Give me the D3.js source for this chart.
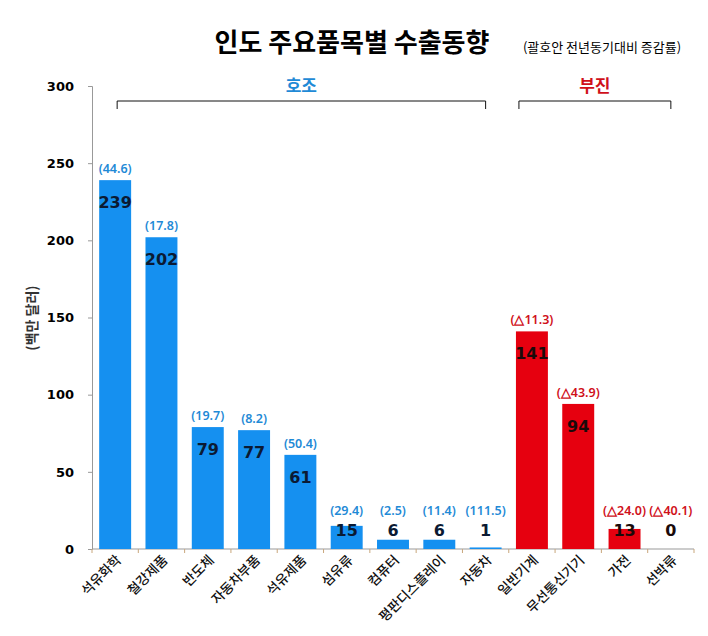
<!DOCTYPE html>
<html>
<head>
<meta charset="utf-8">
<title>인도 주요품목별 수출동향</title>
<script src="https://d3js.org/d3.v7.min.js"></script>
<style>
body { margin: 0; background: #fff; }
text { font-family: "Noto Sans CJK KR", "Noto Sans", sans-serif; }
</style>
</head>
<body>
<div id="container"></div>
<script>
// data
var categories = ["석유화학", "철강제품", "반도체", "자동차부품", "석유제품", "섬유류", "컴퓨터", "평판디스플레이", "자동차", "일반기계", "무선통신기기", "가전", "선박류"];
var values = [239, 202, 79, 77, 61, 15, 6, 6, 1, 141, 94, 13, 0];
var changes = [44.6, 17.8, 19.7, 8.2, 50.4, 29.4, 2.5, 11.4, 111.5, -11.3, -43.9, -24.0, -40.1];
var yTicks = [0, 50, 100, 150, 200, 250, 300];
var groups = [
	{ name: "호조", from: 0, to: 8 },
	{ name: "부진", from: 9, to: 12 }
];

var W = 708, H = 636;
var mLeft = 92, mRight = 694, mTop = 86, mBottom = 549;
var blue = "#1590f0", red = "#e6000f";
var blueText = "#1f8ad6", redText = "#d0101a";

var svg = d3.select("#container")
	.append("svg")
	.attr("width", W)
	.attr("height", H);

var x = d3.scaleBand()
	.domain(categories)
	.range([mLeft, mRight])
	.paddingInner(0.31)
	.paddingOuter(0.155);

var y = d3.scaleLinear()
	.domain([0, 300])
	.range([mBottom, mTop]);

function isGood(i) { return changes[i] >= 0; }

//Title
svg.append("text")
	.attr("x", 352)
	.attr("y", 52)
	.attr("text-anchor", "middle")
	.attr("font-size", 26)
	.attr("font-weight", "bold")
	.attr("fill", "#000")
	.text("인도 주요품목별 수출동향");

svg.append("text")
	.attr("x", 602)
	.attr("y", 52)
	.attr("text-anchor", "middle")
	.attr("font-size", 13)
	.attr("fill", "#000")
	.text("(괄호안 전년동기대비 증감률)");

//Y axis
var yAxis = svg.append("g")
	.attr("transform", "translate(" + mLeft + ",0)")
	.call(d3.axisLeft(y).tickValues(yTicks).tickSize(4).tickPadding(14));
yAxis.select(".domain").attr("stroke", "#999");
yAxis.selectAll(".tick line").attr("stroke", "#999");
yAxis.selectAll(".tick text")
	.attr("font-size", 13)
	.attr("font-weight", "bold")
	.attr("fill", "#000")
	.style("font-family", "'DejaVu Sans', sans-serif");

svg.append("text")
	.attr("transform", "translate(32,318) rotate(-90)")
	.attr("text-anchor", "middle")
	.attr("dy", "0.35em")
	.attr("font-size", 14)
	.attr("font-weight", "bold")
	.attr("fill", "#333")
	.text("(백만 달러)");

//X axis line and ticks between categories
svg.append("line")
	.attr("x1", mLeft).attr("x2", mRight)
	.attr("y1", mBottom).attr("y2", mBottom)
	.attr("stroke", "#999");

var step = x.step();
svg.selectAll(".xtick")
	.data(d3.range(categories.length + 1))
	.enter().append("line")
	.attr("x1", function(i) { return mLeft + i * step; })
	.attr("x2", function(i) { return mLeft + i * step; })
	.attr("y1", mBottom)
	.attr("y2", mBottom + 4)
	.attr("stroke", "#c9a77c");

//Bars
svg.selectAll(".bar")
	.data(values)
	.enter().append("rect")
	.attr("x", function(d, i) { return x(categories[i]); })
	.attr("y", function(d) { return y(d); })
	.attr("width", x.bandwidth())
	.attr("height", function(d) { return mBottom - y(d); })
	.attr("fill", function(d, i) { return isGood(i) ? blue : red; });

//Value labels
svg.selectAll(".val")
	.data(values)
	.enter().append("text")
	.attr("x", function(d, i) { return x(categories[i]) + x.bandwidth() / 2; })
	.attr("y", function(d) { return Math.min(y(d) + 28, 536); })
	.attr("text-anchor", "middle")
	.attr("font-size", 16)
	.attr("font-weight", "bold")
	.attr("fill", function(d, i) { return isGood(i) ? "#0b1a33" : "#1a0a0a"; })
	.style("font-family", "'DejaVu Sans', sans-serif")
	.text(function(d) { return d; });

//Change labels
svg.selectAll(".chg")
	.data(changes)
	.enter().append("text")
	.attr("x", function(d, i) { return x(categories[i]) + x.bandwidth() / 2; })
	.attr("y", function(d, i) { return Math.min(y(values[i]) - 7, 515); })
	.attr("text-anchor", "middle")
	.attr("font-size", 12.5)
	.attr("font-weight", 600)
	.attr("fill", function(d) { return d >= 0 ? blueText : redText; })
	.style("font-family", "'Noto Sans', sans-serif")
	.text(function(d) { return "(" + (d < 0 ? "△" : "") + Math.abs(d).toFixed(1) + ")"; });

//Category labels
svg.selectAll(".cat")
	.data(categories)
	.enter().append("text")
	.attr("transform", function(d) {
		return "translate(" + (x(d) + x.bandwidth() / 2 + 7) + "," + (mBottom + 12) + ") rotate(-45)";
	})
	.attr("text-anchor", "end")
	.attr("font-size", 13.5)
	.attr("font-weight", 500)
	.attr("fill", "#111")
	.text(function(d) { return d; });

//Group brackets
var cx = function(i) { return x(categories[i]) + x.bandwidth() / 2; };
groups.forEach(function(g, k) {
	var x1 = k === 0 ? cx(g.from) + 2 : cx(g.from) - 13;
	var x2 = cx(g.to);
	var by = 101;
	svg.append("path")
		.attr("d", "M" + x1 + "," + (by + 8) + "V" + by + "H" + x2 + "V" + (by + 8))
		.attr("fill", "none")
		.attr("stroke", "#111")
		.attr("stroke-width", 1);
	svg.append("text")
		.attr("x", (x1 + x2) / 2)
		.attr("y", 92)
		.attr("text-anchor", "middle")
		.attr("font-size", 17)
		.attr("font-weight", "bold")
		.attr("fill", k === 0 ? blueText : redText)
		.text(g.name);
});
</script>
</body>
</html>
